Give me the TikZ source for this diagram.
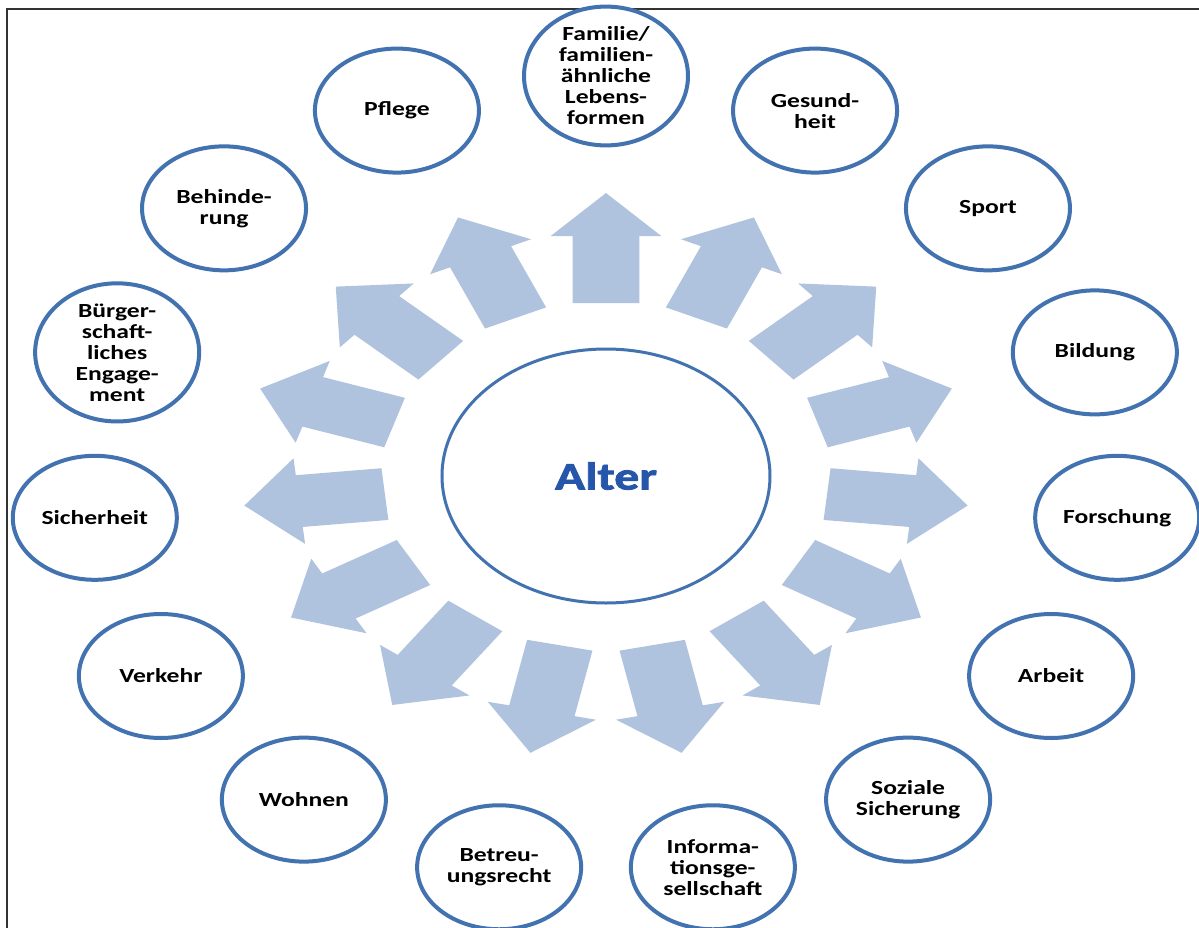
\documentclass[tikz,border=0pt]{standalone}
\usepackage{fontspec}
\setmainfont{Carlito}[FakeStretch=1.28]
\newfontfamily\hubfont{Carlito}[FakeStretch=1.28,BoldFeatures={FakeBold=2}]
\usetikzlibrary{shapes.geometric}
\definecolor{ringblue}{RGB}{66,114,175}
\definecolor{arrowblue}{RGB}{176,195,222}
\definecolor{alterblue}{RGB}{38,86,170}
\tikzset{
  topic/.style={ellipse,draw=ringblue,line width=4pt,fill=white,
    minimum width=164pt,minimum height=124pt,inner sep=0pt,align=center,
    font=\fontsize{20}{21}\selectfont\bfseries},
  hub/.style={ellipse,draw=ringblue,line width=3pt,
    minimum width=328pt,minimum height=254pt,
    font=\hubfont\fontsize{39}{40}\selectfont\bfseries,text=alterblue},
  blockarrow/.style={fill=arrowblue}
}
\begin{document}
\begin{tikzpicture}[x=1pt,y=1pt]
\useasboundingbox (-606,-451) rectangle (593,476);
\fill[white] (-606,-451) rectangle (593,476);
\draw[line width=1.2pt,black!80] (-599,-460) -- (-599,467) -- (600,467);
\node[hub] (alter) at (0,0) {Alter};
\begin{scope}[xscale=1.285]
\foreach \i in {0,...,14}
  \fill[blockarrow,rotate=90-24*\i] (173,-26) -- (240,-26) -- (240,-43)
    -- (283,0) -- (240,43) -- (240,26) -- (173,26) -- cycle;
\end{scope}
\foreach \lbl [count=\i from 0] in {{Familie/\\familien-\\ähnliche\\Lebens-\\formen},
    {Gesund-\\heit},Sport,Bildung,Forschung,Arbeit,{Soziale\\Sicherung},
    {Informa-\\tionsge-\\sellschaft},{Betreu-\\ungsrecht},Wohnen,Verkehr,
    Sicherheit,{Bürger-\\schaft-\\liches\\Engage-\\ment},{Behinde-\\rung},Pflege}
  \node[topic] (t\i) at ({514*cos(90-24*\i)},{400*sin(90-24*\i)}) {\lbl};
\end{tikzpicture}
\end{document}
